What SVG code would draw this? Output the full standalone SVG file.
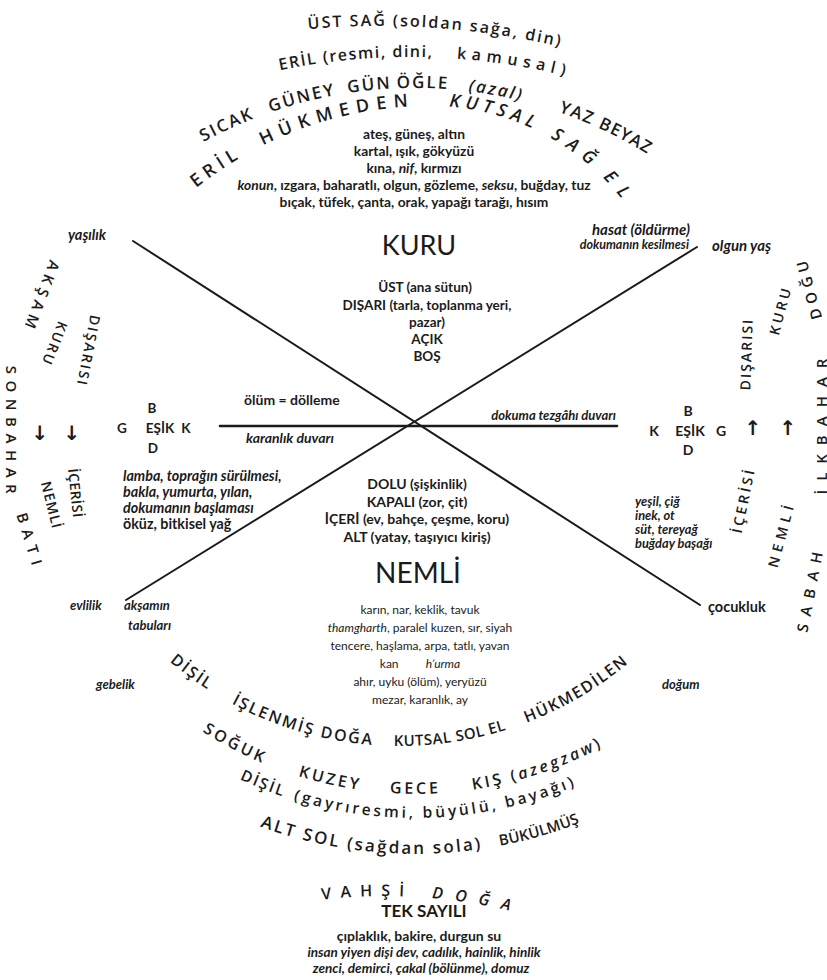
<svg xmlns="http://www.w3.org/2000/svg" width="827" height="980" viewBox="0 0 827 980">
<style>
.a{font-family:"Open Sans","DejaVu Sans",sans-serif;font-weight:600;fill:#1b1b1b}
.b{font-family:Lato,"Liberation Sans",sans-serif;font-weight:700;fill:#1b1b1b}
.r{font-family:Lato,"Liberation Sans",sans-serif;font-weight:400;fill:#1b1b1b}
.i{font-style:italic}
.c{text-anchor:middle}
.e{text-anchor:end}
.v{text-anchor:middle;dominant-baseline:central}
.ar{font-family:"DejaVu Sans",sans-serif;font-size:20px;font-weight:700;fill:#1b1b1b;text-anchor:middle}
</style>
<defs>
<path id="t1" d="M -420 826 A 800 800 0 0 1 1180 826"/>
<path id="t2" d="M -240 707 A 650 650 0 0 1 1060 707"/>
<path id="t3" d="M -27 530 A 442 442 0 0 1 857 530"/>
<path id="t4" d="M 56 480 A 374 374 0 0 1 430 106 A 244 244 0 0 1 674 350"/>
<path id="b1" d="M 44 390 A 356 356 0 0 0 756 390"/>
<path id="b2" d="M 21 400 A 394 394 0 0 0 809 400"/>
<path id="b3" d="M -3 400 A 418 418 0 0 0 833 400"/>
<path id="b4" d="M -39 400 A 454 454 0 0 0 869 400"/>
<path id="b5" d="M -149 1430 A 534 534 0 0 1 919 1430"/>
</defs>
<rect width="827" height="980" fill="#ffffff"/>

<g id="connectors" stroke="#1b1b1b" stroke-width="2" stroke-linecap="round" fill="none">
<line x1="133" y1="241" x2="700" y2="605"/>
<line x1="697" y1="247" x2="126" y2="600"/>
<line x1="220" y1="426" x2="617" y2="426" stroke-width="2.6"/>
</g>

<g id="top-arcs">
<text class="a c" font-size="16" letter-spacing="2"><textPath href="#t1" startOffset="1312">ÜST SAĞ (soldan sağa, din)</textPath></text>
<text class="a c" font-size="16" letter-spacing="1.5"><textPath href="#t2" startOffset="967">ERİL (resmi, dini,</textPath></text>
<text class="a c" font-size="16" letter-spacing="5.5"><textPath href="#t2" startOffset="1125">kamusal)</textPath></text>
<text class="a c" font-size="17" letter-spacing="2"><textPath href="#t3" startOffset="502">SICAK</textPath></text>
<text class="a c" font-size="17" letter-spacing="2"><textPath href="#t3" startOffset="581">GÜNEY</textPath></text>
<text class="a c" font-size="17" letter-spacing="2"><textPath href="#t3" startOffset="649">GÜN</textPath></text>
<text class="a c" font-size="17" letter-spacing="2"><textPath href="#t3" startOffset="702">ÖĞLE</textPath></text>
<text class="a c i" font-size="17" letter-spacing="2"><textPath href="#t3" startOffset="775">(azal)</textPath></text>
<text class="a c" font-size="17" letter-spacing="1.5"><textPath href="#t3" startOffset="858">YAZ</textPath></text>
<text class="a c" font-size="17" letter-spacing="1"><textPath href="#t3" startOffset="911">BEYAZ</textPath></text>
<text class="a c" font-size="18" letter-spacing="5"><textPath href="#t4" startOffset="363">ERİL</textPath></text>
<text class="a c" font-size="18" letter-spacing="7"><textPath href="#t4" startOffset="493">HÜKMEDEN</textPath></text>
<text class="a c i" font-size="18" letter-spacing="5"><textPath href="#t4" startOffset="652">KUTSAL</textPath></text>
<text class="a c i" font-size="18" letter-spacing="8"><textPath href="#t4" startOffset="741">SAĞ</textPath></text>
<text class="a c i" font-size="18" letter-spacing="10"><textPath href="#t4" startOffset="798">EL</textPath></text>
</g>

<g id="top-list" class="b c" font-size="13.8">
<text x="414" y="139">ateş, güneş, altın</text>
<text x="414" y="156">kartal, ışık, gökyüzü</text>
<text x="414" y="173">kına, <tspan class="i">nif</tspan>, kırmızı</text>
<text x="414" y="190"><tspan class="i">konun</tspan>, ızgara, baharatlı, olgun, gözleme, <tspan class="i">seksu</tspan>, buğday, tuz</text>
<text x="414" y="207">bıçak, tüfek, çanta, orak, yapağı tarağı, hısım</text>
</g>

<g id="kuru">
<text class="r c" x="419" y="255" font-size="27">KURU</text>
<g class="b c" font-size="13.5">
<text x="425" y="292">ÜST (ana sütun)</text>
<text x="427" y="310">DIŞARI (tarla, toplanma yeri,</text>
<text x="427" y="327">pazar)</text>
<text x="427" y="344">AÇIK</text>
<text x="427" y="361">BOŞ</text>
</g>
</g>

<g id="corner-labels" class="b i" font-size="12.5">
<text x="68" y="240" font-size="14.5">yaşılık</text>
<text class="e" x="690" y="235" font-size="15">hasat (öldürme)</text>
<text class="e" x="689" y="249">dokumanın kesilmesi</text>
<text x="712" y="251" font-size="15">olgun yaş</text>
<text x="70" y="610" font-size="13">evlilik</text>
<text x="124" y="610" font-size="13">akşamın</text>
<text x="128" y="630" font-size="13">tabuları</text>
<text x="96" y="689" font-size="13">gebelik</text>
<text x="662" y="689" font-size="13">doğum</text>
<text x="708" y="612" font-size="14.5" font-style="normal">çocukluk</text>
</g>

<g id="wall-labels" class="b" font-size="14">
<text x="244" y="405">ölüm = dölleme</text>
<text class="i" x="246" y="443">karanlık duvarı</text>
<text class="i e" x="616" y="420" font-size="13">dokuma tezgâhı duvarı</text>
</g>

<g id="threshold-left" class="b c" font-size="13.5">
<text x="152" y="413">B</text>
<text x="122" y="433">G</text>
<text x="160" y="433">EŞİK</text>
<text x="186" y="433">K</text>
<text x="153" y="453">D</text>
</g>
<g id="threshold-right" class="b c" font-size="14">
<text x="688" y="416">B</text>
<text x="654" y="436">K</text>
<text x="690" y="436">EŞİK</text>
<text x="721" y="436">G</text>
<text x="688" y="455">D</text>
</g>

<g id="left-list" class="b i" font-size="14.3">
<text x="123" y="481">lamba, toprağın sürülmesi,</text>
<text x="123" y="497">bakla, yumurta, yılan,</text>
<text x="123" y="513">dokumanın başlaması</text>
<text x="123" y="529" font-style="normal">öküz, bitkisel yağ</text>
</g>
<g id="right-list" class="b i" font-size="12.8">
<text x="635" y="506">yeşil, çiğ</text>
<text x="635" y="520">inek, ot</text>
<text x="635" y="534">süt, tereyağ</text>
<text x="635" y="548">buğday başağı</text>
</g>

<g id="left-side" class="a v">
<text font-size="15" letter-spacing="5" transform="translate(42,297) rotate(111)">AKŞAM</text>
<text font-size="15" letter-spacing="6.5" transform="translate(12,433) rotate(90)">SONBAHAR</text>
<text font-size="15" letter-spacing="7" transform="translate(31,542) rotate(73)">BATI</text>
<text font-size="14" letter-spacing="2" transform="translate(55,344) rotate(111.5)">KURU</text>
<text font-size="14" letter-spacing="1" transform="translate(52,505) rotate(76)">NEMLİ</text>
<text font-size="14" letter-spacing="2" transform="translate(89,351) rotate(101)">DIŞARISI</text>
<text font-size="14" letter-spacing="0.5" transform="translate(76,493) rotate(84)">İÇERİSİ</text>
</g>
<g id="left-arrows" class="ar">
<text x="40" y="440">↓</text>
<text x="72" y="440">↓</text>
</g>

<g id="right-side" class="a v">
<text font-size="14" letter-spacing="2" transform="translate(746,354) rotate(-88)">DIŞARISI</text>
<text font-size="14" letter-spacing="3" transform="translate(743,500) rotate(-78)">İÇERİSİ</text>
<text font-size="14" letter-spacing="3" transform="translate(780,310) rotate(-75)">KURU</text>
<text font-size="14" letter-spacing="5" transform="translate(781,534) rotate(-75)">NEMLİ</text>
<text font-size="15" letter-spacing="5" transform="translate(808,288) rotate(-105)">DOĞU</text>
<text font-size="15" letter-spacing="9" transform="translate(821,422) rotate(-90)">İLKBAHAR</text>
<text font-size="15" letter-spacing="8" transform="translate(810,588) rotate(-79)">SABAH</text>
</g>
<g id="right-arrows" class="ar">
<text x="753" y="435">↑</text>
<text x="788" y="435">↑</text>
</g>

<g id="nemli">
<g class="b c" font-size="14">
<text x="417" y="489">DOLU (şişkinlik)</text>
<text x="417" y="507">KAPALI (zor, çit)</text>
<text x="417" y="524">İÇERİ (ev, bahçe, çeşme, koru)</text>
<text x="417" y="542">ALT (yatay, taşıyıcı kiriş)</text>
</g>
<text class="r c" x="418" y="583" font-size="28">NEMLİ</text>
</g>

<g id="bottom-list" class="r c" font-size="12">
<text x="420" y="614">karın, nar, keklik, tavuk</text>
<text x="420" y="632"><tspan class="i">thamgharth</tspan>, paralel kuzen, sır, siyah</text>
<text x="420" y="650">tencere, haşlama, arpa, tatlı, yavan</text>
<text x="420" y="668">kan <tspan dx="24" class="i">h’urma</tspan></text>
<text x="420" y="686">ahır, uyku (ölüm), yeryüzü</text>
<text x="420" y="704">mezar, karanlık, ay</text>
</g>

<g id="bottom-arcs">
<text class="a c" font-size="16" letter-spacing="2"><textPath href="#b1" startOffset="333">DİŞİL</textPath></text>
<text class="a c" font-size="16" letter-spacing="2"><textPath href="#b1" startOffset="458">İŞLENMİŞ DOĞA</textPath></text>
<text class="a c" font-size="15" letter-spacing="0.5"><textPath href="#b1" startOffset="610">KUTSAL SOL EL</textPath></text>
<text class="a c" font-size="16" letter-spacing="1.5"><textPath href="#b1" startOffset="748">HÜKMEDİLEN</textPath></text>
<text class="a c" font-size="16" letter-spacing="3"><textPath href="#b2" startOffset="429">SOĞUK</textPath></text>
<text class="a c" font-size="16" letter-spacing="3"><textPath href="#b2" startOffset="532">KUZEY</textPath></text>
<text class="a c" font-size="16" letter-spacing="3"><textPath href="#b2" startOffset="619">GECE</textPath></text>
<text class="a c" font-size="16" letter-spacing="3"><textPath href="#b2" startOffset="746">KIŞ (<tspan class="i">azegzaw</tspan>)</textPath></text>
<text class="a c" font-size="15.5" letter-spacing="2"><textPath href="#b3" startOffset="499">DİŞİL</textPath></text>
<text class="a c" font-size="15.5" letter-spacing="3"><textPath href="#b3" startOffset="678">(gayrıresmi, büyülü, bayağı)</textPath></text>
<text class="a c" font-size="17" letter-spacing="2.3"><textPath href="#b4" startOffset="668">ALT SOL (sağdan sola)</textPath></text>
<text class="a c" font-size="15" letter-spacing="0"><textPath href="#b4" startOffset="840">BÜKÜLMÜŞ</textPath></text>
<text class="a c" font-size="16" letter-spacing="9"><textPath href="#b5" startOffset="821">VAHŞİ</textPath></text>
<text class="a c i" font-size="16" letter-spacing="12"><textPath href="#b5" startOffset="931">DOĞA</textPath></text>
</g>

<g id="tek-sayili">
<text class="b c" x="424" y="917" font-size="17">TEK SAYILI</text>
<text class="b c" x="419" y="941" font-size="14">çıplaklık, bakire, durgun su</text>
<text class="b c i" x="424" y="957" font-size="13.5">insan yiyen dişi dev, cadılık, hainlik, hinlik</text>
<text class="b c i" x="421" y="973" font-size="13.5">zenci, demirci, çakal (bölünme), domuz</text>
</g>
</svg>
